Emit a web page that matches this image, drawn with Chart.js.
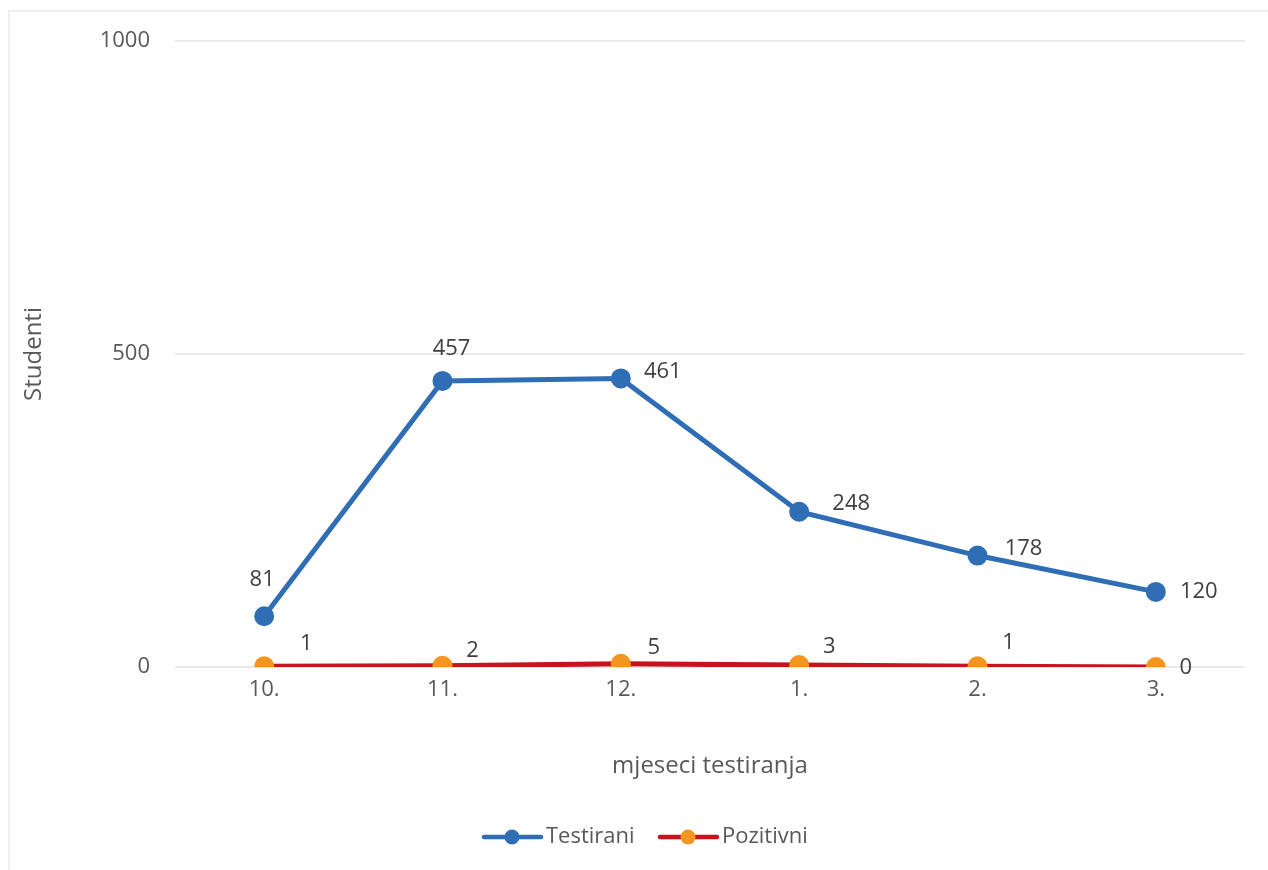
<!DOCTYPE html>
<html>
<head>
<meta charset="utf-8">
<script src="https://cdn.jsdelivr.net/npm/chart.js@4/dist/chart.umd.min.js"></script>
<style>
  html, body { margin: 0; padding: 0; background: #fff; overflow: hidden; }
  #wrap { position: relative; width: 1268px; height: 870px; }
  #frame { position: absolute; left: 8px; top: 10px; width: 1300px; height: 900px; border: 2px solid #eeeeee; box-sizing: border-box; }
  #chart { position: absolute; left: 0; top: 0; }
</style>
</head>
<body>
<div id="wrap">
  <div id="frame"></div>
  <canvas id="chart" width="1268" height="870"></canvas>
</div>
<script>
// chart data
const months = ['10.', '11.', '12.', '1.', '2.', '3.'];
const testirani = [81, 457, 461, 248, 178, 120];
const pozitivni = [1, 2, 5, 3, 1, 0];
const yTicks = [0, 500, 1000];

// label offsets from the point (px), like the Excel label placement
const testiraniLabelOffsets = [[-2, -37], [9, -32], [42, -7], [52, -8], [46, -7], [43, 0]];
const pozitivniLabelOffsets = [[42, -23], [30, -15], [33, -16], [30, -18], [31, -24], [30, 1]];

const FONT = '"Open Sans", "Liberation Sans", sans-serif';
const BLUE = '#2f6eb5';
const RED = '#c8131c';
const ORANGE = '#f4951f';

// draws the value labels next to each point
const valueLabels = {
  id: 'valueLabels',
  afterDatasetsDraw(chart) {
    const ctx = chart.ctx;
    const offsets = [testiraniLabelOffsets, pozitivniLabelOffsets];
    ctx.save();
    ctx.font = '22px ' + FONT;
    ctx.fillStyle = '#404040';
    ctx.textAlign = 'center';
    ctx.textBaseline = 'middle';
    chart.data.datasets.forEach(function(ds, i) {
      const meta = chart.getDatasetMeta(i);
      meta.data.forEach(function(pt, j) {
        const off = offsets[i][j];
        ctx.fillText(String(ds.data[j]), pt.x + off[0], pt.y + off[1]);
      });
    });
    ctx.restore();
  }
};

// legend with line + marker, Excel style
const lineLegend = {
  id: 'lineLegend',
  afterDraw(chart) {
    const ctx = chart.ctx;
    const y = 837;
    const items = [
      { x: 484, text: 'Testirani', line: BLUE, dot: BLUE },
      { x: 660, text: 'Pozitivni', line: RED, dot: ORANGE }
    ];
    ctx.save();
    ctx.font = '22px ' + FONT;
    ctx.textBaseline = 'middle';
    ctx.textAlign = 'left';
    items.forEach(function(it) {
      ctx.strokeStyle = it.line;
      ctx.lineWidth = 4.5;
      ctx.lineCap = 'round';
      ctx.beginPath();
      ctx.moveTo(it.x, y);
      ctx.lineTo(it.x + 57, y);
      ctx.stroke();
      ctx.fillStyle = it.dot;
      ctx.beginPath();
      ctx.arc(it.x + 28, y, 7.5, 0, Math.PI * 2);
      ctx.fill();
      ctx.fillStyle = '#595959';
      ctx.fillText(it.text, it.x + 62, y);
    });
    ctx.restore();
  }
};

const ctx = document.getElementById('chart');
const chart = new Chart(ctx, {
  type: 'line',
  data: {
    labels: months,
    datasets: [
      {
        label: 'Testirani',
        data: testirani,
        borderColor: BLUE,
        backgroundColor: BLUE,
        pointBackgroundColor: BLUE,
        pointBorderColor: BLUE,
        borderWidth: 5,
        pointRadius: 7.5,
        tension: 0
      },
      {
        label: 'Pozitivni',
        data: pozitivni,
        borderColor: RED,
        backgroundColor: ORANGE,
        pointBackgroundColor: ORANGE,
        pointBorderColor: ORANGE,
        borderWidth: 5,
        pointRadius: 7.5,
        tension: 0
      }
    ]
  },
  options: {
    responsive: false,
    animation: false,
    layout: {
      padding: { left: 0, top: 41, right: 23, bottom: 85 }
    },
    plugins: {
      legend: { display: false },
      tooltip: { enabled: false }
    },
    scales: {
      x: {
        offset: true,
        grid: { display: false },
        border: { display: false },
        ticks: {
          color: '#595959',
          font: { family: FONT, size: 22 },
          padding: 2
        },
        title: {
          display: true,
          text: 'mjeseci testiranja',
          color: '#595959',
          font: { family: FONT, size: 24 },
          padding: { top: 0, bottom: 4 }
        },
        afterFit: function(scale) { scale.height = 118; }
      },
      y: {
        min: 0,
        max: 1000,
        afterBuildTicks: function(scale) {
          scale.ticks = yTicks.map(function(v) { return { value: v }; });
        },
        grid: {
          color: '#eaeaea',
          lineWidth: 2,
          drawTicks: false
        },
        border: { display: false },
        ticks: {
          color: '#595959',
          font: { family: FONT, size: 22 },
          padding: 25,
          callback: function(v) { return String(v); }
        },
        title: {
          display: true,
          text: 'Studenti',
          color: '#595959',
          font: { family: FONT, size: 24 },
          padding: { top: 20, bottom: 0 }
        },
        afterFit: function(scale) { scale.width = 175; }
      }
    }
  },
  plugins: [valueLabels, lineLegend]
});
</script>
</body>
</html>
